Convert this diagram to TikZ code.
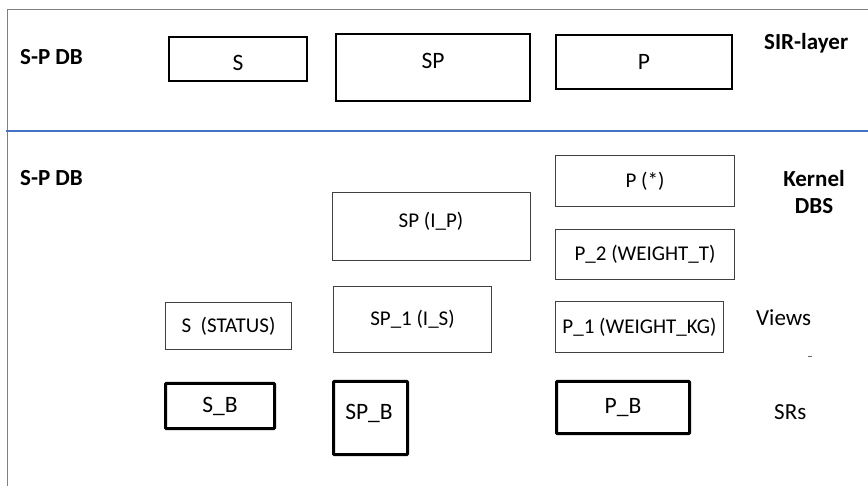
\documentclass[tikz,border=0pt]{standalone}
\usepackage{fontspec}
\setmainfont{Carlito}
\begin{document}
\begin{tikzpicture}[x=1pt,y=-1pt,
  bigtxt/.style={font=\fontsize{23.5}{26}\selectfont},
  smalltxt/.style={font=\fontsize{21}{24}\selectfont},
  lbl/.style={font=\fontsize{23}{26}\selectfont, inner sep=0pt},
  blbl/.style={font=\bfseries\fontsize{23}{26}\selectfont, inner sep=0pt},
  topbox/.style={draw=black, line width=2pt, rectangle, inner sep=0pt, bigtxt},
  viewbox/.style={draw=black!75, line width=1pt, rectangle, inner sep=0pt, smalltxt},
  srbox/.style={draw=black, line width=3pt, rectangle, rounded corners=0.8pt, inner sep=0pt, bigtxt},
  frameline/.style={draw=black!50, line width=1pt},
  sepline/.style={draw={rgb,255:red,68;green,114;blue,196}, line width=1.5pt}]
\useasboundingbox (0,0) rectangle (868,486);
% frame
\coordinate (tl) at (7,10);
\coordinate (tr) at (868,10);
\coordinate (bl) at (7,486);
\coordinate (sl) at (6,131);
\coordinate (sr) at (868,131);
\draw[frameline] (tr) -- (tl) -- (bl);
\draw[sepline] (sl) -- (sr);
% labels
\node[blbl, anchor=base west] (spdb1) at (20,65) {S-P DB};
\node[blbl, anchor=base west] (spdb2) at (20,186) {S-P DB};
\node[blbl, anchor=base west] (sir) at (764,50) {SIR-layer};
\node[blbl, anchor=base] (kern) at (814,187) {Kernel};
\node[blbl, anchor=base] (dbs) at (814,214) {DBS};
\node[lbl, anchor=base west] (views) at (756,326) {Views};
\node[lbl, anchor=base west] (srs) at (774,419) {SRs};
\coordinate (dasha) at (808,356.5);
\coordinate (dashb) at (812,356.5);
\draw[draw=black!60, line width=0.8pt] (dasha) -- (dashb);
% SIR layer
\node[topbox, minimum width=138pt, minimum height=44pt] (ts) at (238,59) {};
\node[bigtxt, inner sep=0pt, anchor=base] (tstxt) at (238,71) {S};
\node[topbox, minimum width=194pt, minimum height=67pt] (tsp) at (433,67.5) {};
\node[bigtxt, inner sep=0pt, anchor=base] (tsptxt) at (433,69) {SP};
\node[topbox, minimum width=176pt, minimum height=54pt] (tp) at (644,62) {};
\node[bigtxt, inner sep=0pt, anchor=base] (tptxt) at (644,70) {P};
% kernel
\node[viewbox, minimum width=198pt, minimum height=68pt] (spip) at (431.5,226.5) {};
\node[smalltxt, inner sep=0pt, anchor=base] (spiptxt) at (431,228) {SP (I\_P)};
\node[viewbox, minimum width=179pt, minimum height=51pt] (pstar) at (645,181) {P (*)};
\node[viewbox, minimum width=179pt, minimum height=50pt] (p2) at (645,254.5) {P\_2 (WEIGHT\_T)};
% views
\node[viewbox, minimum width=158pt, minimum height=66pt] (sp1) at (412.5,319.5) {SP\_1 (I\_S)};
\node[viewbox, minimum width=126pt, minimum height=47pt] (sstat) at (228.5,326) {S\ \ (STATUS)};
\node[viewbox, minimum width=168pt, minimum height=51pt] (p1) at (639.5,327) {P\_1 (WEIGHT\_KG)};
% SRs
\node[srbox, minimum width=109pt, minimum height=45pt] (sb) at (220,406) {S\_B};
\node[srbox, minimum width=74pt, minimum height=73pt] (spb) at (370.5,418) {};
\node[bigtxt, inner sep=0pt, anchor=base] (spbtxt) at (369,420) {SP\_B};
\node[srbox, minimum width=133pt, minimum height=52pt] (pb) at (623,407.5) {P\_B};
\end{tikzpicture}
\end{document}
